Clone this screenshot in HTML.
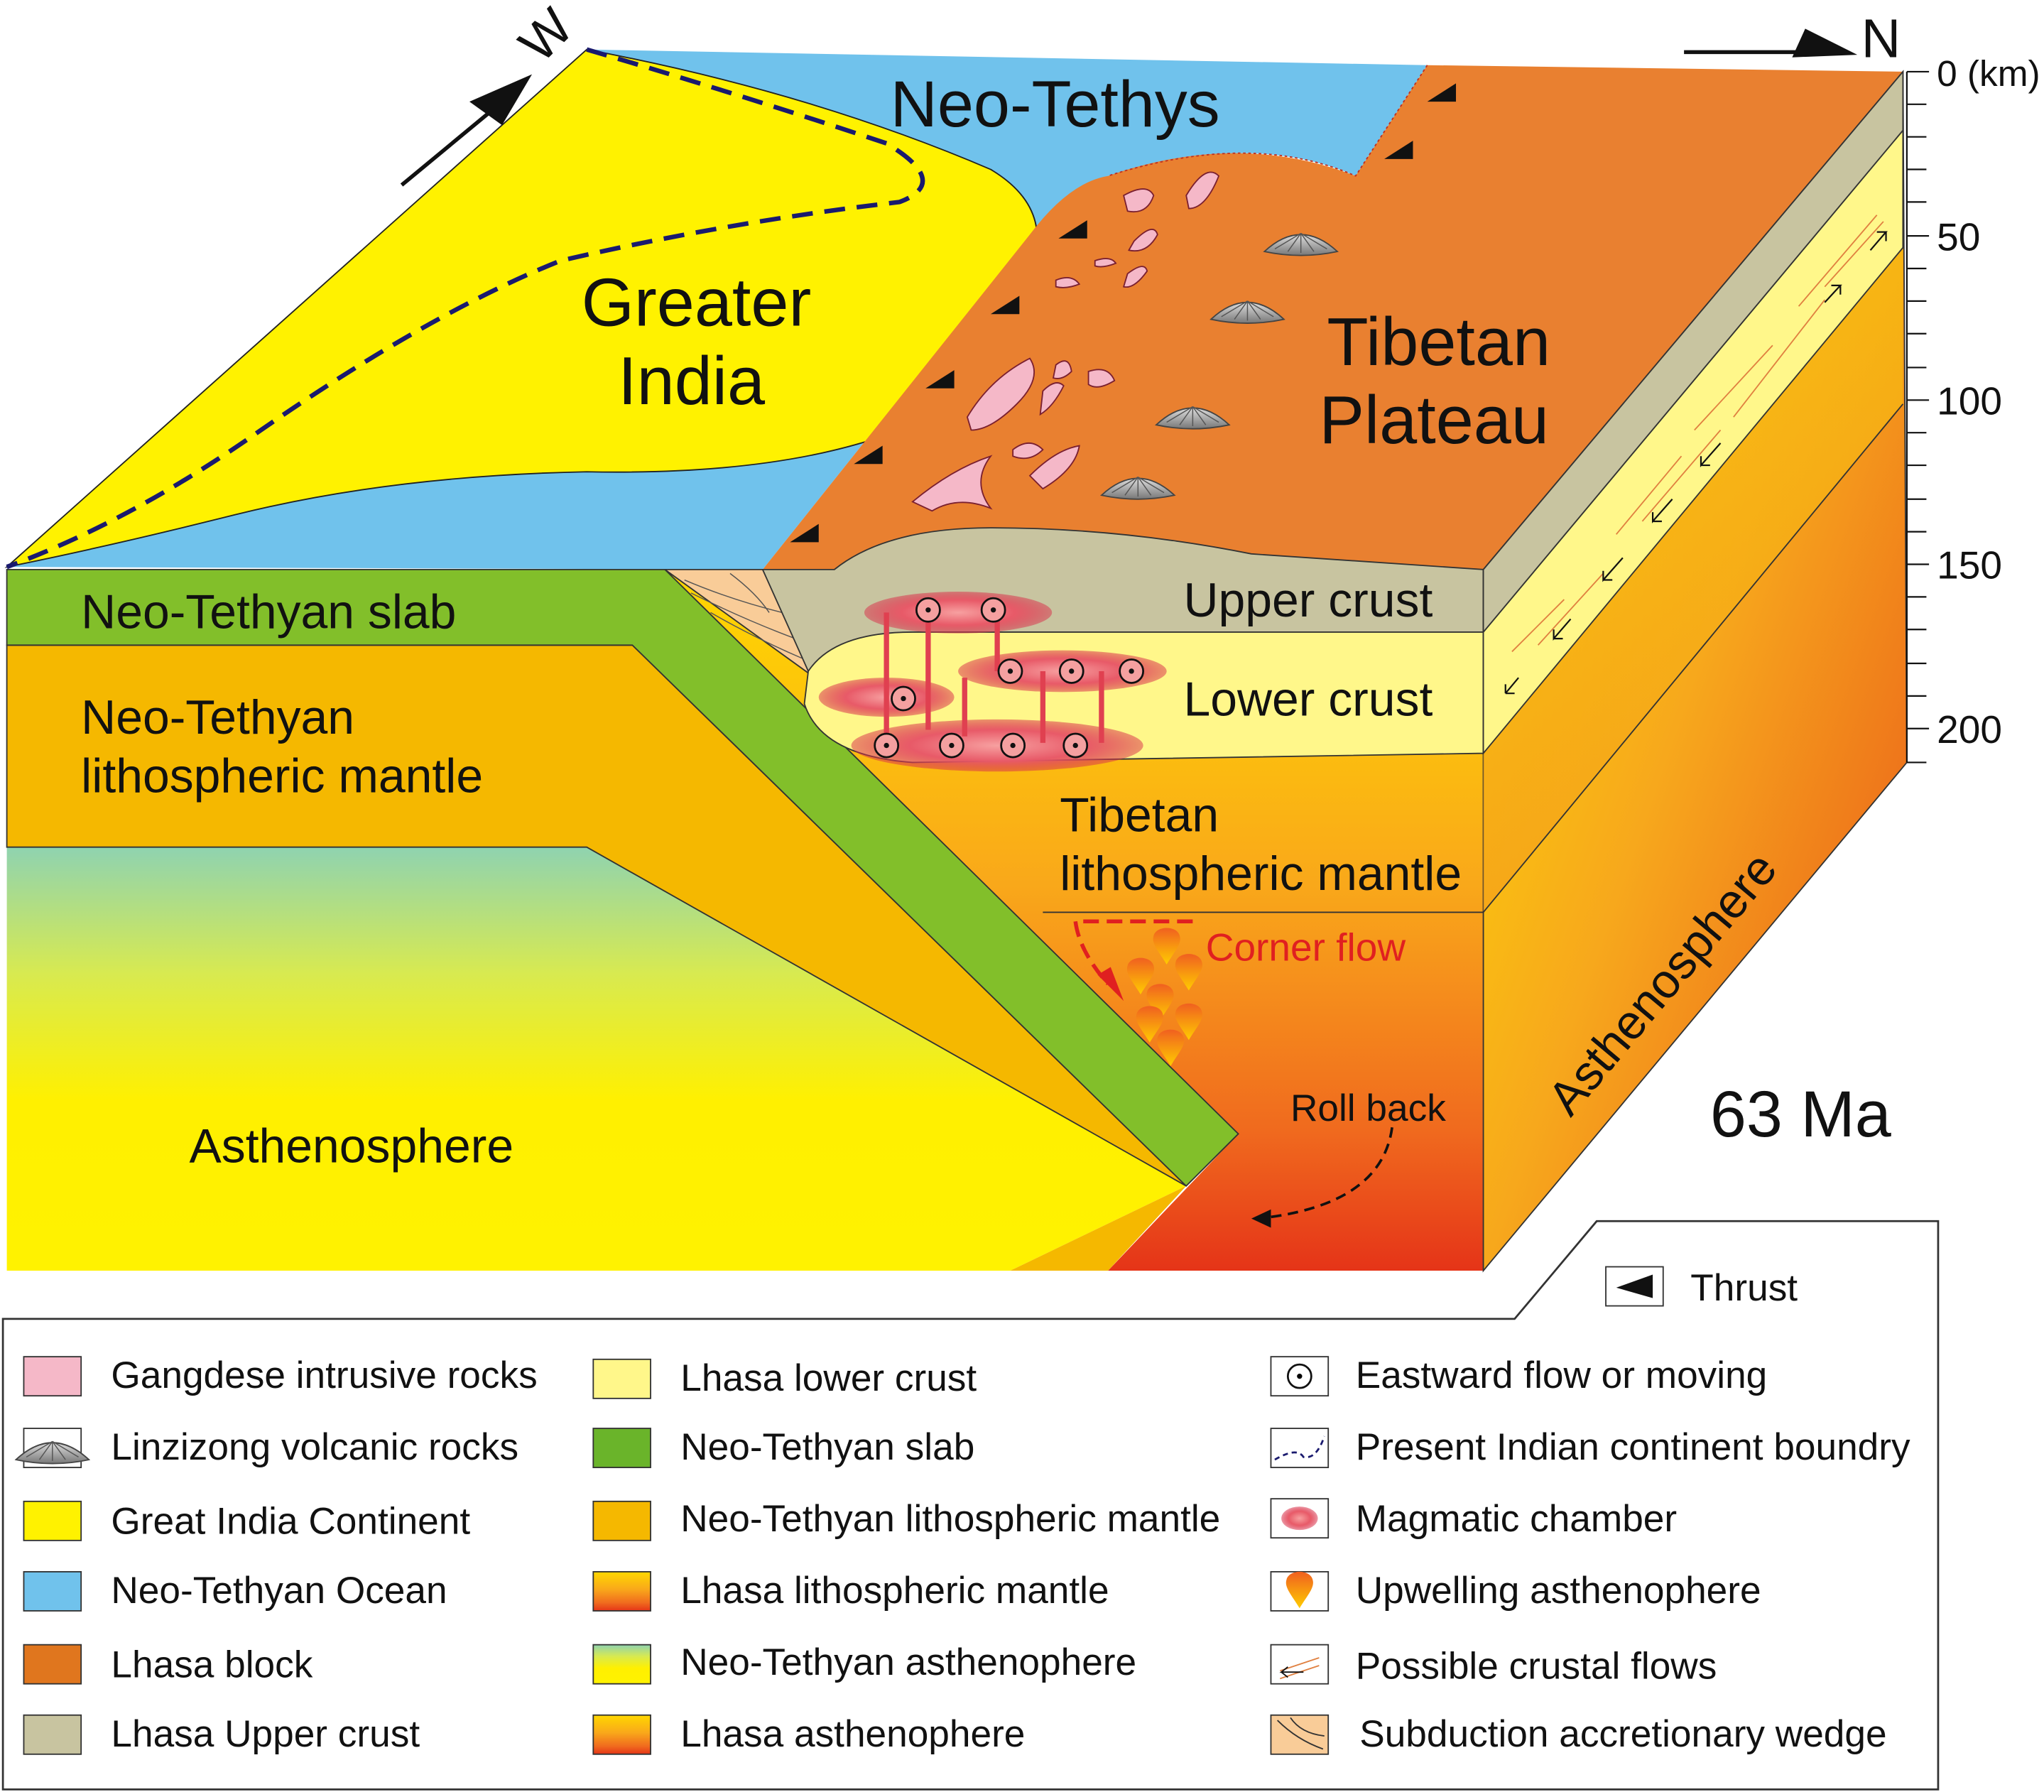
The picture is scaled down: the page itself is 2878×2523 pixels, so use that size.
<!DOCTYPE html>
<html><head><meta charset="utf-8"><style>
html,body{margin:0;padding:0;background:#fff;}
svg{display:block;}
text{font-family:"Liberation Sans",Arial,sans-serif;fill:#111;}
</style></head><body>
<svg width="2878" height="2523" viewBox="0 0 1568 1375" xmlns="http://www.w3.org/2000/svg">
<defs>
<linearGradient id="asL" x1="0" y1="0" x2="0" y2="1">
<stop offset="0" stop-color="#8fd3b0"/><stop offset="0.3" stop-color="#d8ea50"/><stop offset="0.6" stop-color="#fff000"/><stop offset="1" stop-color="#fff200"/></linearGradient>
<linearGradient id="tib" x1="0" y1="0" x2="0" y2="1">
<stop offset="0" stop-color="#ffd800"/><stop offset="0.45" stop-color="#f9a81a"/><stop offset="0.8" stop-color="#f06a1e"/><stop offset="1" stop-color="#e53418"/></linearGradient>
<linearGradient id="rf" x1="0" y1="0" x2="1" y2="1">
<stop offset="0" stop-color="#ffe600"/><stop offset="0.5" stop-color="#f7a81c"/><stop offset="1" stop-color="#e8501a"/></linearGradient>
<linearGradient id="rm" x1="0" y1="0" x2="0" y2="1">
<stop offset="0" stop-color="#f8c010"/><stop offset="1" stop-color="#f5a01a"/></linearGradient>
<radialGradient id="mag"><stop offset="0" stop-color="#f7a0a0"/><stop offset="0.6" stop-color="#e85a68"/><stop offset="1" stop-color="#d8304a" stop-opacity="0.5"/></radialGradient>
<linearGradient id="cone" x1="0" y1="0" x2="0" y2="1"><stop offset="0" stop-color="#ddd"/><stop offset="1" stop-color="#777"/></linearGradient>
<linearGradient id="drop" x1="0" y1="0" x2="0" y2="1"><stop offset="0" stop-color="#f06020"/><stop offset="1" stop-color="#ffcc00"/></linearGradient>
<g id="tri"><path d="M0,0 L22,-14 L22,0 Z" fill="#111"/></g>
<g id="vc"><path d="M-28,8 Q0,-18 28,8 Q0,14 -28,8 Z" fill="url(#cone)" stroke="#444" stroke-width="1"/><path d="M-20,6 L0,-6 M-10,8 L0,-6 M0,9 L0,-6 M10,8 L0,-6 M20,6 L0,-6" stroke="#555" stroke-width="0.8"/></g>
<g id="dr"><path d="M0,18 C-6,8 -12,2 -10,-4 C-8,-12 8,-12 10,-4 C12,2 6,8 0,18 Z" fill="url(#drop)"/></g>
<g id="eo"><circle r="9" fill="#f4a0a0" stroke="#111" stroke-width="1.5"/><circle r="2" fill="#111"/></g>
</defs>

<path d="M5,435 L450,38 L1095,50 L1040,135 Q960,100 850,135 L790,180 L585,437 Z" fill="#70c2ec"/>
<path d="M5,435 L450,38 Q620,70 760,130 Q810,160 790,210 Q770,300 690,330 Q600,365 450,362 Q300,365 180,395 Q80,420 5,435 Z" fill="#fff200" stroke="#222" stroke-width="1"/>
<path d="M1095,50 L1460,55 L1138,437 L640,437 L585,437 L790,180 Q820,140 850,135 Q950,100 1040,135 Z" fill="#e98030"/>
<path d="M1095,50 L1040,135 Q960,100 850,135" fill="none" stroke="#c03020" stroke-width="1" stroke-dasharray="2,2"/>
<path d="M450,38 Q560,70 680,110 Q730,140 690,155 Q560,170 430,200 Q330,240 200,330 Q100,400 5,435" fill="none" stroke="#1a1a6e" stroke-width="3.5" stroke-dasharray="16,9"/>
<use href="#tri" x="1095" y="78"/><use href="#tri" x="1062" y="122"/>
<use href="#tri" x="812" y="183"/><use href="#tri" x="760" y="241"/><use href="#tri" x="710" y="298"/><use href="#tri" x="655" y="356"/><use href="#tri" x="606" y="416"/>
<g fill="#f5b8c8" stroke="#7a2030" stroke-width="1">
<path d="M862,150 Q880,140 885,150 Q880,165 865,162 Z"/>
<path d="M910,150 Q925,125 935,135 Q925,160 912,160 Z"/>
<path d="M870,185 Q885,170 888,180 Q880,195 866,192 Z"/>
<path d="M742,320 Q760,290 790,275 Q800,290 780,310 Q760,330 745,330 Z"/>
<path d="M700,385 Q730,360 760,350 Q745,370 760,390 Q735,380 715,392 Z"/>
<path d="M790,365 Q810,345 828,342 Q825,360 800,375 Z"/>
<path d="M777,345 Q790,335 800,345 Q790,355 777,350 Z"/>
<path d="M835,285 Q850,280 855,292 Q842,300 835,295 Z"/>
<path d="M810,215 Q822,210 828,218 Q818,222 810,220 Z"/>
<path d="M800,300 Q810,290 816,296 Q808,312 798,318 Z"/>
<path d="M810,280 Q820,272 822,285 Q815,292 808,290 Z"/>
<path d="M865,210 Q878,200 880,208 Q870,222 862,220 Z"/>
<path d="M840,200 Q852,196 856,202 Q846,206 840,204 Z"/>
</g>
<use href="#vc" x="998" y="185"/><use href="#vc" x="957" y="237"/><use href="#vc" x="915" y="318"/><use href="#vc" x="873" y="372"/>

<path d="M510,437 L1138,437 L1138,975 L850,975 L950,870 Z" fill="url(#tib)"/>
<path d="M5,650 L450,650 L910,910 L775,975 L5,975 Z" fill="url(#asL)"/>
<path d="M5,495 L485,495 L910,910 L450,650 L5,650 Z" fill="#f5b800" stroke="#333" stroke-width="1"/>
<path d="M910,910 L850,975 L775,975 Z" fill="#f5b800"/>
<path d="M5,437 L510,437 L950,870 L910,910 L485,495 L5,495 Z" fill="#82bf2a" stroke="#333" stroke-width="1"/>
<path d="M510,437 L585,437 L625,520 Z" fill="#f9cc98" stroke="#333" stroke-width="1"/>
<g stroke="#555" stroke-width="0.8" fill="none"><path d="M525,445 Q560,460 600,470"/><path d="M530,455 Q570,475 610,490"/><path d="M545,470 Q580,490 615,505"/><path d="M560,440 Q580,455 590,470"/></g>
<path d="M585,437 L640,437 Q680,405 760,405 Q860,405 960,425 L1138,437 L1138,485 L700,485 Q640,490 620,515 Z" fill="#c8c4a0" stroke="#333" stroke-width="1"/>
<path d="M620,515 Q640,485 700,485 L1138,485 L1138,578 L700,585 Q630,580 617,540 Z" fill="#fff78a" stroke="#333" stroke-width="1"/>
<line x1="800" y1="700" x2="1138" y2="700" stroke="#333" stroke-width="1"/>
<ellipse cx="735" cy="470" rx="72" ry="16" fill="url(#mag)"/>
<ellipse cx="815" cy="515" rx="80" ry="16" fill="url(#mag)"/>
<ellipse cx="680" cy="535" rx="52" ry="15" fill="url(#mag)"/>
<ellipse cx="765" cy="572" rx="112" ry="20" fill="url(#mag)"/>
<g stroke="#e04050" stroke-width="4"><line x1="680" y1="470" x2="680" y2="570"/><line x1="712" y1="470" x2="712" y2="560"/><line x1="765" y1="470" x2="765" y2="515"/><line x1="800" y1="515" x2="800" y2="570"/><line x1="845" y1="515" x2="845" y2="570"/><line x1="740" y1="520" x2="740" y2="565"/></g>
<use href="#eo" x="712" y="468"/><use href="#eo" x="762" y="468"/>
<use href="#eo" x="775" y="515"/><use href="#eo" x="822" y="515"/><use href="#eo" x="868" y="515"/>
<use href="#eo" x="693" y="536"/>
<use href="#eo" x="680" y="572"/><use href="#eo" x="730" y="572"/><use href="#eo" x="777" y="572"/><use href="#eo" x="825" y="572"/>

<path d="M915,707 L825,707 Q828,730 850,755" fill="none" stroke="#e02020" stroke-width="3" stroke-dasharray="12,6"/>
<path d="M842,748 L862,768 L852,742 Z" fill="#e02020"/>
<use href="#dr" x="895" y="722"/><use href="#dr" x="875" y="745"/><use href="#dr" x="912" y="742"/>
<use href="#dr" x="890" y="765"/><use href="#dr" x="912" y="780"/><use href="#dr" x="882" y="782"/><use href="#dr" x="898" y="800"/>
<path d="M1068,865 Q1060,925 965,935" fill="none" stroke="#111" stroke-width="2" stroke-dasharray="8,5"/>
<path d="M960,935 L975,928 L975,942 Z" fill="#111"/>

<path d="M1138,437 L1460,55 L1463,585 L1138,975 Z" fill="url(#rf)" stroke="#333" stroke-width="1"/>
<path d="M1138,578 L1138,700 L1460,310 L1460,190 Z" fill="url(#rm)" opacity="0.7"/>
<path d="M1138,485 L1138,578 L1460,190 L1460,100 Z" fill="#fff78a" stroke="#333" stroke-width="1"/>
<path d="M1138,437 L1138,485 L1460,100 L1460,55 Z" fill="#c8c4a0" stroke="#333" stroke-width="1"/>
<line x1="1138" y1="700" x2="1460" y2="310" stroke="#333" stroke-width="1"/>
<g stroke="#e08040" stroke-width="1"><path d="M1160,500 L1200,460 M1180,495 L1230,440 M1240,410 L1290,350 M1260,400 L1320,330 M1300,330 L1360,265 M1330,320 L1400,230 M1380,235 L1440,165 M1400,220 L1445,170"/></g>
<g stroke="#111" stroke-width="1.2" fill="none"><path d="M1165,520 L1155,532 M1155,532 l0,-7 M1155,532 l7,0"/><path d="M1205,475 L1192,490 l0,-7 M1192,490 l7,0"/><path d="M1245,428 L1230,445 l0,-7 M1230,445 l7,0"/><path d="M1283,383 L1268,400 l0,-7 M1268,400 l7,0"/><path d="M1320,340 L1305,357 l0,-7 M1305,357 l7,0"/><path d="M1400,232 L1412,219 l-7,0 M1412,219 l0,7"/><path d="M1435,192 L1447,178 l-7,0 M1447,178 l0,7"/></g>

<g stroke="#111" stroke-width="1.2"><line x1="1463" y1="55" x2="1463" y2="585"/>
<line x1="1463" y1="55" x2="1480" y2="55"/><line x1="1463" y1="80" x2="1478" y2="80"/><line x1="1463" y1="105" x2="1478" y2="105"/><line x1="1463" y1="130" x2="1478" y2="130"/><line x1="1463" y1="155" x2="1478" y2="155"/><line x1="1463" y1="181" x2="1480" y2="181"/><line x1="1463" y1="206" x2="1478" y2="206"/><line x1="1463" y1="231" x2="1478" y2="231"/><line x1="1463" y1="256" x2="1478" y2="256"/><line x1="1463" y1="282" x2="1478" y2="282"/><line x1="1463" y1="307" x2="1480" y2="307"/><line x1="1463" y1="332" x2="1478" y2="332"/><line x1="1463" y1="357" x2="1478" y2="357"/><line x1="1463" y1="383" x2="1478" y2="383"/><line x1="1463" y1="408" x2="1478" y2="408"/><line x1="1463" y1="433" x2="1480" y2="433"/><line x1="1463" y1="458" x2="1478" y2="458"/><line x1="1463" y1="483" x2="1478" y2="483"/><line x1="1463" y1="509" x2="1478" y2="509"/><line x1="1463" y1="534" x2="1478" y2="534"/><line x1="1463" y1="559" x2="1480" y2="559"/><line x1="1463" y1="585" x2="1478" y2="585"/></g>
<text x="1486" y="66" font-size="28">0 (km)</text><text x="1486" y="192" font-size="30">50</text><text x="1486" y="318" font-size="30">100</text><text x="1486" y="444" font-size="30">150</text><text x="1486" y="570" font-size="30">200</text>

<path d="M308,142 L395,70" stroke="#111" stroke-width="3"/><path d="M360,78 L408,57 L385,96 Z" fill="#111"/>
<text x="0" y="0" font-size="40" transform="translate(415,50) rotate(-45)">W</text>
<path d="M1292,40 L1400,40" stroke="#111" stroke-width="3"/><path d="M1385,22 L1425,42 L1375,44 Z" fill="#111"/>
<text x="1428" y="44" font-size="42">N</text>

<text x="683" y="97" font-size="50">Neo-Tethys</text>
<text x="446" y="250" font-size="52">Greater</text><text x="474" y="310" font-size="52">India</text>
<text x="1018" y="280" font-size="52">Tibetan</text><text x="1012" y="340" font-size="52">Plateau</text>
<text x="62" y="482" font-size="37">Neo-Tethyan slab</text>
<text x="62" y="563" font-size="37">Neo-Tethyan</text><text x="62" y="608" font-size="37">lithospheric mantle</text>
<text x="145" y="892" font-size="37">Asthenosphere</text>
<text x="908" y="473" font-size="37">Upper crust</text>
<text x="908" y="549" font-size="37">Lower crust</text>
<text x="813" y="638" font-size="37">Tibetan</text><text x="813" y="683" font-size="37">lithospheric mantle</text>
<text x="925" y="737" font-size="30" style="fill:#e02020">Corner flow</text>
<text x="990" y="860" font-size="29">Roll back</text>
<text x="0" y="0" font-size="37" transform="translate(1205,858) rotate(-50)">Asthenosphere</text>
<text x="1312" y="872" font-size="50">63 Ma</text>

<path d="M2,1012 L1162,1012 L1225,937 L1487,937 L1487,1373 L2,1373 Z" fill="#fff" stroke="#333" stroke-width="1.5"/>
<g font-size="29">
<rect x="1232" y="972" width="44" height="30" fill="#fff" stroke="#333"/><path d="M1240,988 L1268,978 L1268,996 Z" fill="#111"/><text x="1297" y="998" font-size="29">Thrust</text>

<rect x="18" y="1041" width="44" height="30" fill="#f5b8c8" stroke="#333"/>
<rect x="18" y="1096" width="44" height="30" fill="#fff" stroke="#333"/><use href="#vc" x="40" y="1112"/>
<rect x="18" y="1152" width="44" height="30" fill="#fff200" stroke="#333"/>
<rect x="18" y="1206" width="44" height="30" fill="#70c2ec" stroke="#333"/>
<rect x="18" y="1262" width="44" height="30" fill="#e0761e" stroke="#333"/>
<rect x="18" y="1316" width="44" height="30" fill="#c8c4a0" stroke="#333"/>
<text x="85" y="1065">Gangdese intrusive rocks</text>
<text x="85" y="1120">Linzizong volcanic rocks</text>
<text x="85" y="1177">Great India Continent</text>
<text x="85" y="1230">Neo-Tethyan Ocean</text>
<text x="85" y="1287">Lhasa block</text>
<text x="85" y="1340">Lhasa Upper crust</text>

<rect x="455" y="1043" width="44" height="30" fill="#fff78a" stroke="#333"/>
<rect x="455" y="1096" width="44" height="30" fill="#6ab42a" stroke="#333"/>
<rect x="455" y="1152" width="44" height="30" fill="#f5b800" stroke="#333"/>
<rect x="455" y="1206" width="44" height="30" fill="url(#tib)" stroke="#333"/>
<rect x="455" y="1262" width="44" height="30" fill="url(#asL)" stroke="#333"/>
<rect x="455" y="1316" width="44" height="30" fill="url(#tib)" stroke="#333"/>
<text x="522" y="1067">Lhasa lower crust</text>
<text x="522" y="1120">Neo-Tethyan slab</text>
<text x="522" y="1175">Neo-Tethyan lithospheric mantle</text>
<text x="522" y="1230">Lhasa lithospheric mantle</text>
<text x="522" y="1285">Neo-Tethyan asthenophere</text>
<text x="522" y="1340">Lhasa asthenophere</text>

<rect x="975" y="1041" width="44" height="30" fill="#fff" stroke="#333"/><circle cx="997" cy="1056" r="9" fill="#fff" stroke="#111" stroke-width="1.5"/><circle cx="997" cy="1056" r="2"/>
<rect x="975" y="1096" width="44" height="30" fill="#fff" stroke="#333"/><path d="M978,1120 Q995,1110 1000,1118 Q1010,1120 1016,1102" fill="none" stroke="#1a1a6e" stroke-width="1.5" stroke-dasharray="4,3"/>
<rect x="975" y="1150" width="44" height="30" fill="#fff" stroke="#333"/><ellipse cx="997" cy="1165" rx="14" ry="9" fill="url(#mag)"/>
<rect x="975" y="1206" width="44" height="30" fill="#fff" stroke="#333"/><use href="#dr" x="997" y="1216"/>
<rect x="975" y="1262" width="44" height="30" fill="#fff" stroke="#333"/><path d="M982,1282 L1012,1272 M982,1288 L1012,1278" stroke="#e08040"/><path d="M1000,1283 L983,1283 l5,-4 M983,1283 l5,4" stroke="#111" fill="none"/>
<rect x="975" y="1316" width="44" height="30" fill="#f9cc98" stroke="#333"/><path d="M980,1320 Q995,1335 1015,1342 M990,1318 Q998,1330 1016,1332" stroke="#333" fill="none"/>
<text x="1040" y="1065">Eastward flow or moving</text>
<text x="1040" y="1120">Present Indian continent boundry</text>
<text x="1040" y="1175">Magmatic chamber</text>
<text x="1040" y="1230">Upwelling asthenophere</text>
<text x="1040" y="1288">Possible crustal flows</text>
<text x="1043" y="1340">Subduction accretionary wedge</text>
</g>
</svg>
</body></html>
